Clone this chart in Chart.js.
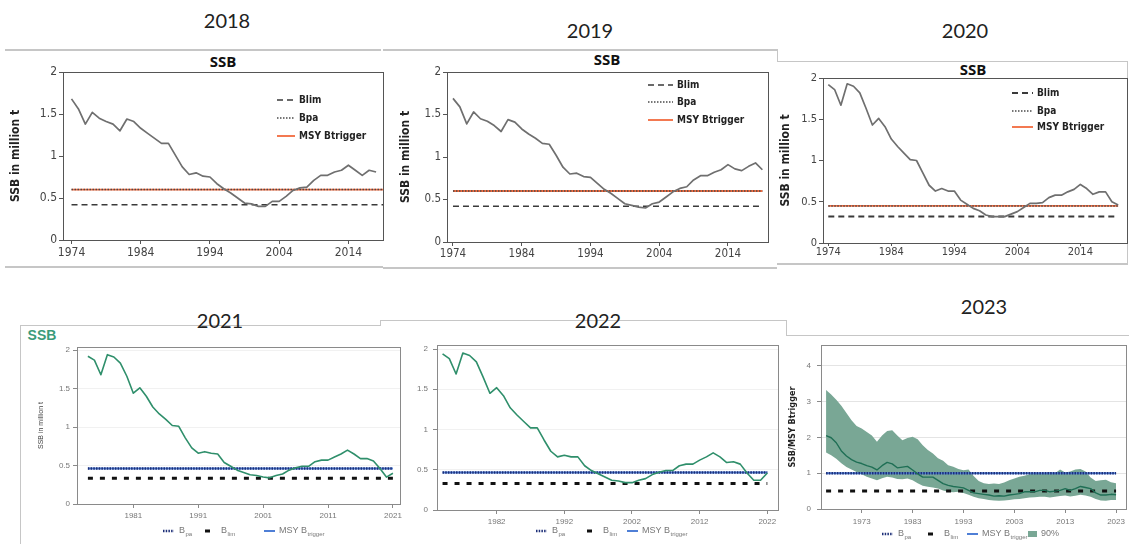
<!DOCTYPE html>
<html>
<head>
<meta charset="utf-8">
<script src="https://cdn.jsdelivr.net/npm/chart.js@4"></script>
<style>
body { margin: 0; background: #fff; width: 1129px; height: 544px; overflow: hidden; position: relative; }
canvas { position: absolute; left: 0; top: 0; }
.yr { position: absolute; font-family: Lato, "Open Sans", sans-serif; font-size: 20px; color: #222; line-height: 1; transform: translate(-50%, -50%); }
.ttl { position: absolute; font-family: "Open Sans", Lato, sans-serif; font-weight: bold; font-size: 15px; color: #111; line-height: 1; transform: translate(-50%, -50%); }
.ln { position: absolute; background: #c6c6c6; }
</style>
</head>
<body>

<div class="ln" style="left:5px;top:49px;width:376px;height:2px"></div>
<div class="ln" style="left:5px;top:266px;width:378px;height:2px"></div>
<div class="ln" style="left:383px;top:49px;width:395px;height:2px"></div>
<div class="ln" style="left:777px;top:49px;width:1px;height:13px"></div>
<div class="ln" style="left:383px;top:267px;width:394px;height:2px"></div>
<div class="ln" style="left:777px;top:61px;width:351px;height:1px"></div>
<div class="ln" style="left:1127px;top:61px;width:1px;height:202px"></div>
<div class="ln" style="left:777px;top:263px;width:351px;height:2px"></div>

<div class="ln" style="left:20px;top:325px;width:360px;height:1px"></div>
<div class="ln" style="left:20px;top:325px;width:1px;height:219px"></div>
<div class="ln" style="left:380px;top:320px;width:406px;height:1px"></div>
<div class="ln" style="left:380px;top:320px;width:1px;height:6px"></div>
<div class="ln" style="left:786px;top:320px;width:1px;height:16px"></div>
<div class="ln" style="left:786px;top:335px;width:343px;height:1px"></div>

<div class="yr" style="left:227px;top:20px">2018</div>
<div class="yr" style="left:590px;top:30px">2019</div>
<div class="yr" style="left:965px;top:30px">2020</div>
<div class="yr" style="left:220px;top:320px">2021</div>
<div class="yr" style="left:598px;top:320px">2022</div>
<div class="yr" style="left:984px;top:306px">2023</div>

<div class="ttl" style="left:223px;top:61px">SSB</div>
<div class="ttl" style="left:607px;top:59px">SSB</div>
<div class="ttl" style="left:973px;top:69px">SSB</div>
<div class="ttl" style="left:42px;top:335px;color:#3b9b7a;font-family:'Liberation Sans',Arial,sans-serif;font-size:14px">SSB</div>

<canvas id="c2018" width="1129" height="544"></canvas>
<canvas id="c2019" width="1129" height="544"></canvas>
<canvas id="c2020" width="1129" height="544"></canvas>
<canvas id="c2021" width="1129" height="544"></canvas>
<canvas id="c2022" width="1129" height="544"></canvas>
<canvas id="c2023" width="1129" height="544"></canvas>

<script>
const W = 1129, H = 544;

// SSB in million t, one value per year from 1974
const ssb2018 = [1.68, 1.56, 1.38, 1.52, 1.45, 1.41, 1.38, 1.30, 1.44, 1.41,
  1.33, 1.27, 1.21, 1.15, 1.15, 1.01, 0.87, 0.78, 0.80, 0.76,
  0.75, 0.67, 0.61, 0.56, 0.50, 0.44, 0.43, 0.40, 0.40, 0.46,
  0.46, 0.52, 0.59, 0.62, 0.63, 0.71, 0.77, 0.77, 0.81, 0.83,
  0.89, 0.83, 0.77, 0.83, 0.81];
const ssb2019 = [1.69, 1.59, 1.39, 1.53, 1.45, 1.42, 1.37, 1.30, 1.44, 1.41,
  1.33, 1.27, 1.22, 1.16, 1.15, 1.02, 0.88, 0.80, 0.81, 0.77,
  0.76, 0.69, 0.62, 0.57, 0.51, 0.45, 0.43, 0.41, 0.40, 0.45,
  0.47, 0.53, 0.59, 0.63, 0.65, 0.73, 0.78, 0.78, 0.82, 0.85,
  0.91, 0.86, 0.84, 0.89, 0.93, 0.85];
const ssb2020 = [1.92, 1.86, 1.67, 1.93, 1.90, 1.82, 1.63, 1.43, 1.51, 1.41,
  1.26, 1.17, 1.09, 1.01, 1.00, 0.85, 0.70, 0.63, 0.66, 0.63,
  0.63, 0.52, 0.47, 0.42, 0.39, 0.34, 0.32, 0.32, 0.32, 0.35,
  0.38, 0.43, 0.48, 0.48, 0.49, 0.55, 0.58, 0.58, 0.62, 0.65,
  0.71, 0.66, 0.59, 0.62, 0.62, 0.50, 0.46];
const ssb2021 = [1.92, 1.87, 1.68, 1.94, 1.91, 1.83, 1.66, 1.44, 1.51, 1.40,
  1.26, 1.17, 1.10, 1.02, 1.01, 0.86, 0.73, 0.66, 0.68, 0.66,
  0.65, 0.54, 0.49, 0.44, 0.41, 0.38, 0.37, 0.35, 0.34, 0.37,
  0.39, 0.44, 0.47, 0.49, 0.49, 0.55, 0.57, 0.57, 0.61, 0.65,
  0.70, 0.65, 0.59, 0.59, 0.56, 0.46, 0.35, 0.40];
const ssb2022 = [1.94, 1.88, 1.69, 1.95, 1.92, 1.84, 1.65, 1.45, 1.52, 1.42,
  1.27, 1.18, 1.10, 1.02, 1.02, 0.87, 0.73, 0.66, 0.68, 0.66,
  0.66, 0.55, 0.49, 0.45, 0.41, 0.37, 0.36, 0.34, 0.34, 0.37,
  0.39, 0.44, 0.47, 0.49, 0.49, 0.55, 0.57, 0.57, 0.62, 0.66,
  0.71, 0.66, 0.59, 0.60, 0.57, 0.46, 0.37, 0.37, 0.46];

// SSB / MSY Btrigger from 1966, median and 90% band
const ratio2023 = [2.05, 1.99, 1.85, 1.62, 1.48, 1.38, 1.31, 1.27, 1.21, 1.17,
  1.09, 1.21, 1.30, 1.26, 1.15, 1.17, 1.19, 1.09, 0.98, 0.89,
  0.89, 0.89, 0.80, 0.71, 0.66, 0.63, 0.61, 0.59, 0.52, 0.45,
  0.43, 0.41, 0.39, 0.36, 0.37, 0.36, 0.39, 0.41, 0.43, 0.48,
  0.48, 0.48, 0.52, 0.52, 0.48, 0.50, 0.52, 0.57, 0.52, 0.57,
  0.63, 0.60, 0.57, 0.45, 0.39, 0.39, 0.41, 0.40];
const ratio2023Low = [1.58, 1.50, 1.40, 1.28, 1.17, 1.10, 1.03, 0.97, 0.90, 0.85,
  0.80, 0.86, 0.90, 0.88, 0.84, 0.83, 0.85, 0.80, 0.72, 0.65,
  0.62, 0.60, 0.57, 0.52, 0.48, 0.47, 0.48, 0.45, 0.40, 0.34,
  0.30, 0.28, 0.25, 0.24, 0.23, 0.24, 0.25, 0.27, 0.28, 0.30,
  0.32, 0.33, 0.34, 0.34, 0.32, 0.34, 0.36, 0.38, 0.35, 0.37,
  0.40, 0.38, 0.34, 0.28, 0.24, 0.23, 0.25, 0.25];
const ratio2023High = [3.32, 3.20, 3.05, 2.88, 2.68, 2.48, 2.32, 2.25, 2.15, 2.05,
  1.88, 2.05, 2.18, 2.20, 2.05, 1.92, 1.98, 2.02, 1.95, 1.78,
  1.65, 1.55, 1.42, 1.35, 1.22, 1.18, 1.12, 1.08, 1.10, 0.92,
  0.78, 0.72, 0.70, 0.71, 0.70, 0.74, 0.80, 0.85, 0.90, 0.93,
  0.97, 1.02, 0.98, 1.00, 1.03, 1.00, 1.10, 1.02, 1.05, 1.10,
  1.12, 1.05, 0.88, 0.78, 0.80, 0.82, 0.75, 0.72];

// reference points per panel: 2018 .. 2023
const blim = [0.42, 0.42, 0.32, 0.335, 0.33, 0.5];
const bpa = [0.6, 0.6, 0.45, 0.46, 0.465, 1.0];
const msyBtrigger = [0.6, 0.6, 0.45, 0.46, 0.465, 1.0];

const xTicks2018 = [1974, 1984, 1994, 2004, 2014];
const xTicks2021 = [1981, 1991, 2001, 2011, 2021];
const xTicks2022 = [1982, 1992, 2002, 2012, 2022];
const xTicks2023 = [1973, 1983, 1993, 2003, 2013, 2023];
const yTicksSsb = [0, 0.5, 1, 1.5, 2];
const yTicksRatio = [0, 1, 2, 3, 4];

function yearsFrom(start, n) { return Array.from({ length: n }, (_, i) => start + i); }
function toPoints(start, values) {
  const yrs = yearsFrom(start, values.length);
  return values.map((v, i) => ({ x: yrs[i], y: v }));
}
function hline(x0, x1, v) { return [{ x: x0, y: v }, { x: x1, y: v }]; }

const NARROW = "'Liberation Sans Narrow', 'DejaVu Sans Condensed', sans-serif";
const SANS = "'Liberation Sans', Arial, sans-serif";

// frame round the plot area + hand placed legends
const panelDecor = {
  id: 'panelDecor',
  afterDraw(chart, args, o) {
    const ctx = chart.ctx, a = chart.chartArea;
    ctx.save();
    if (o.frame) {
      ctx.strokeStyle = o.frame;
      ctx.lineWidth = 1;
      ctx.strokeRect(Math.round(a.left) + 0.5, Math.round(a.top) + 0.5,
        Math.round(a.right - a.left), Math.round(a.bottom - a.top));
    }
    (o.legend || []).forEach(e => {
      const ds = chart.data.datasets[e.ds];
      if (e.box) {
        ctx.fillStyle = ds.backgroundColor;
        ctx.fillRect(e.x0, e.y - 3, e.x1 - e.x0, 6);
      } else {
        ctx.strokeStyle = ds.borderColor;
        ctx.lineWidth = ds.borderWidth;
        ctx.setLineDash(ds.borderDash || []);
        ctx.beginPath();
        ctx.moveTo(e.x0, e.y);
        ctx.lineTo(e.x1, e.y);
        ctx.stroke();
        ctx.setLineDash([]);
      }
      let x = e.tx;
      ctx.textBaseline = 'middle';
      ctx.textAlign = 'left';
      ctx.fillStyle = o.textColor;
      e.parts.forEach(([t, sub]) => {
        ctx.font = sub ? o.subFont : o.font;
        ctx.fillText(t, x, sub ? e.y + 3 : e.y);
        x += ctx.measureText(t).width + (sub ? 0 : 0.5);
      });
    });
    ctx.restore();
  }
};

function makePanel(id, p) {
  const xH = 30;
  return new Chart(document.getElementById(id), {
    type: 'line',
    data: { datasets: p.datasets },
    options: {
      responsive: false,
      animation: false,
      events: [],
      layout: { padding: { left: p.area[0] - p.yW, top: p.area[1], right: W - p.area[2], bottom: H - p.area[3] - xH } },
      elements: { point: { radius: 0 }, line: { tension: 0, borderJoinStyle: 'round' } },
      scales: {
        x: {
          type: 'linear', min: p.x[0], max: p.x[1],
          afterBuildTicks: s => { s.ticks = p.xTicks.map(v => ({ value: v })); },
          afterFit: s => { s.height = xH; },
          grid: { drawOnChartArea: false, color: p.axis, tickLength: p.xTick[0] },
          border: { color: p.axis },
          ticks: { padding: p.xTick[1], color: p.tickColor, font: p.tickFont, autoSkip: false, maxRotation: 0, callback: v => String(v) }
        },
        y: {
          min: p.y[0], max: p.y[1],
          afterBuildTicks: s => { s.ticks = p.yTicks.map(v => ({ value: v })); },
          afterFit: s => { s.width = p.yW; },
          grid: { drawOnChartArea: !!p.gridColor, color: p.gridColor || p.axis, tickColor: p.axis, tickLength: 4 },
          border: { color: p.axis },
          ticks: { padding: p.yPad, color: p.tickColor, font: p.tickFont, callback: v => String(v) },
          title: p.yTitle ? { display: true, text: p.yTitle, padding: 0, color: p.titleColor, font: p.titleFont } : { display: false }
        }
      },
      plugins: {
        legend: { display: false },
        tooltip: { enabled: false },
        panelDecor: { frame: p.axis, legend: p.legend, font: p.legendFont, subFont: p.subFont, textColor: p.legendColor }
      }
    },
    plugins: [panelDecor]
  });
}

// 2018 - 2020: grey SSB, orange MSY Btrigger
function oldStyle(ssb, i, endYear) {
  return [
    { label: 'SSB', data: toPoints(1974, ssb), borderColor: '#6f6f6f', borderWidth: 1.7 },
    { label: 'Bpa', data: hline(1974, endYear, bpa[i]), borderColor: '#4a4a4a', borderWidth: 1.5, borderDash: [1.5, 1.5] },
    { label: 'MSY Btrigger', data: hline(1974, endYear, msyBtrigger[i]), borderColor: '#f26a3e', borderWidth: 1.8 },
    { label: 'Blim', data: hline(1974, endYear, blim[i]), borderColor: '#3a3a3a', borderWidth: i === 2 ? 2 : 1.5, borderDash: [6, 4] }
  ];
}
function oldLegend(x0, x1, tx, ys) {
  return [
    { ds: 3, x0: x0, x1: x1, tx: tx, y: ys[0], parts: [['Blim']] },
    { ds: 1, x0: x0, x1: x1, tx: tx, y: ys[1], parts: [['Bpa']] },
    { ds: 2, x0: x0, x1: x1, tx: tx, y: ys[2], parts: [['MSY Btrigger']] }
  ];
}
const oldBase = {
  axis: '#555', tickColor: '#444', yTicks: yTicksSsb, y: [0, 2], xTicks: xTicks2018,
  yTitle: 'SSB in million t', titleColor: '#222', titleFont: { family: NARROW, size: 12, weight: 'bold' },
  legendFont: 'bold 10px ' + NARROW, subFont: 'bold 7px ' + NARROW, legendColor: '#222'
};

makePanel('c2018', Object.assign({}, oldBase, {
  area: [63, 72, 383, 240], yW: 54, x: [1972.77, 2019.0], yPad: 2, xTick: [4, 2],
  tickFont: { family: NARROW, size: 12 },
  datasets: oldStyle(ssb2018, 0, 2019),
  legend: oldLegend(277, 295, 299, [100, 118, 136])
}));
makePanel('c2019', Object.assign({}, oldBase, {
  area: [447, 72, 768, 242], yW: 48, x: [1973.13, 2019.82], yPad: 2, xTick: [4, 1],
  tickFont: { family: NARROW, size: 11.5 },
  datasets: oldStyle(ssb2019, 1, 2019),
  legend: oldLegend(648, 673, 677, [85, 102, 120])
}));
makePanel('c2020', Object.assign({}, oldBase, {
  area: [823, 78, 1127, 243], yW: 44, x: [1973.16, 2021.4], yPad: 2, xTick: [3, 0],
  tickFont: { family: NARROW, size: 11 },
  datasets: oldStyle(ssb2020, 2, 2020),
  legend: oldLegend(1012, 1033, 1037, [93, 111, 127])
}));

// 2021 - 2023: green SSB, blue MSY Btrigger, legend below
function newStyle(main, i, x0, x1) {
  return [
    main,
    { label: 'Bpa', data: hline(x0, x1, bpa[i]), borderColor: '#1d2f78', borderWidth: 2.5, borderDash: [1.5, 1.2] },
    { label: 'MSY Btrigger', data: hline(x0, x1, msyBtrigger[i]), borderColor: '#4f7fd6', borderWidth: 2 },
    { label: 'Blim', data: hline(x0, x1, blim[i]), borderColor: '#111', borderWidth: 3, borderDash: [5, 7] }
  ];
}
function newLegend(pos, y) {
  return [
    { ds: 1, x0: pos[0], x1: pos[0] + 11, tx: pos[0] + 16, y: y, parts: [['B'], ['pa', 1]] },
    { ds: 3, x0: pos[1], x1: pos[1] + 12, tx: pos[1] + 16, y: y, parts: [['B'], ['lim', 1]] },
    { ds: 2, x0: pos[2], x1: pos[2] + 11, tx: pos[2] + 15, y: y, parts: [['MSY B'], ['trigger', 1]] }
  ];
}
const newBase = {
  axis: '#8a8a8a', tickColor: '#777', xTick: [4, 3],
  tickFont: { family: SANS, size: 8 },
  titleColor: '#444', titleFont: { family: SANS, size: 7 },
  legendFont: '9px ' + SANS, subFont: '6px ' + SANS, legendColor: '#777'
};

makePanel('c2021', Object.assign({}, newBase, {
  area: [77, 347, 400, 504], yW: 40, x: [1972.32, 2022.09], y: [0, 2.04], yTicks: yTicksSsb, yPad: 3,
  xTicks: xTicks2021, gridColor: '#f1f1f1', yTitle: 'SSB in million t',
  datasets: newStyle({ label: 'SSB', data: toPoints(1974, ssb2021), borderColor: '#2f8f6b', borderWidth: 1.6 }, 3, 1974, 2021),
  legend: newLegend([163, 205, 264], 531)
}));
makePanel('c2022', Object.assign({}, newBase, {
  area: [437, 345, 778, 510], yW: 40, x: [1973.18, 2023.58], y: [0, 2.05], yTicks: yTicksSsb, yPad: 5,
  xTicks: xTicks2022, gridColor: '#f1f1f1',
  datasets: newStyle({ label: 'SSB', data: toPoints(1974, ssb2022), borderColor: '#2f8f6b', borderWidth: 1.6 }, 4, 1974, 2022),
  legend: newLegend([536, 587, 627], 531)
}));

const ds2023 = newStyle({ label: 'SSB/MSY Btrigger', data: toPoints(1966, ratio2023), borderColor: '#1f6f55', borderWidth: 1.4 }, 5, 1966, 2023);
ds2023.push({ label: '90% low', data: toPoints(1966, ratio2023Low), borderWidth: 0, borderColor: 'rgba(0,0,0,0)' });
ds2023.push({ label: '90%', data: toPoints(1966, ratio2023High), borderWidth: 0, borderColor: 'rgba(0,0,0,0)', backgroundColor: '#79a795', fill: '-1' });
const legend2023 = newLegend([882, 928, 967], 534);
legend2023.push({ ds: 5, box: true, x0: 1028, x1: 1037, tx: 1041, y: 534, parts: [['90%']] });

makePanel('c2023', Object.assign({}, newBase, {
  area: [821, 345, 1128, 509], yW: 34, x: [1965.0, 2024.95], y: [0, 4.58], yTicks: yTicksRatio, yPad: 6,
  xTicks: xTicks2023, xTick: [4, 4], gridColor: '#e4e4e4',
  yTitle: 'SSB/MSY Btrigger', titleColor: '#222', titleFont: { family: NARROW, size: 9, weight: 'bold' },
  datasets: ds2023,
  legend: legend2023
}));
</script>
</body>
</html>
